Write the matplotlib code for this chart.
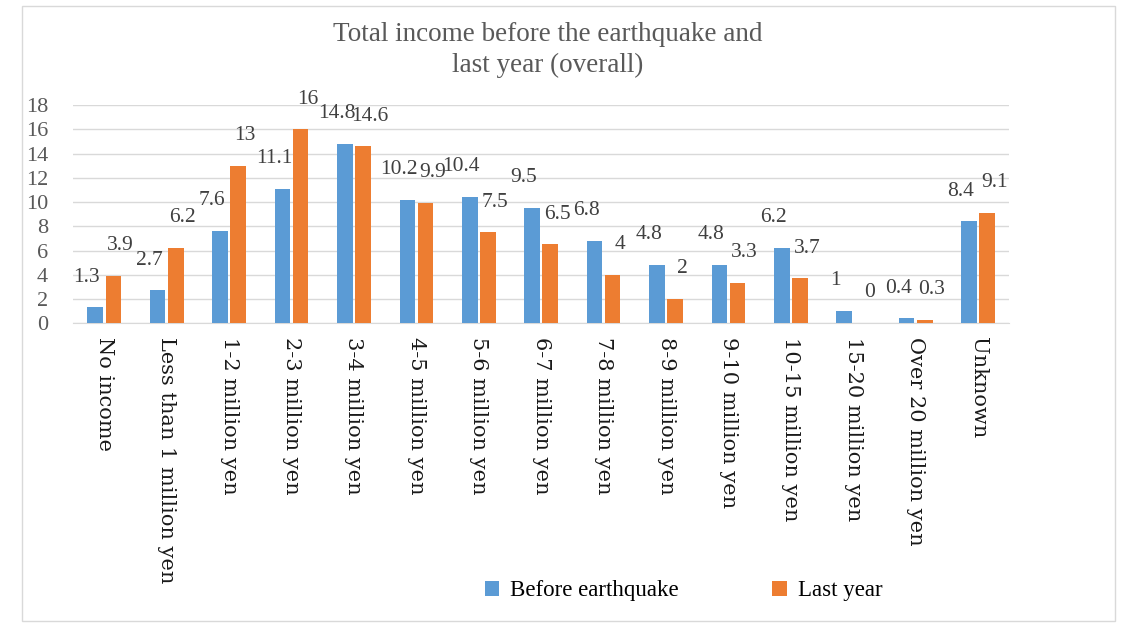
import matplotlib.pyplot as plt
import numpy as np
from matplotlib.patches import Rectangle

categories = [
    "No income", "Less than 1 million yen", "1-2 million yen", "2-3 million yen",
    "3-4 million yen", "4-5 million yen", "5-6 million yen", "6-7 million yen",
    "7-8 million yen", "8-9 million yen", "9-10 million yen", "10-15 million yen",
    "15-20 million yen", "Over 20 million yen", "Unknown",
]
before_quake = [1.3, 2.7, 7.6, 11.1, 14.8, 10.2, 10.4, 9.5, 6.8, 4.8, 4.8, 6.2, 1, 0.4, 8.4]
last_year = [3.9, 6.2, 13, 16, 14.6, 9.9, 7.5, 6.5, 4, 2, 3.3, 3.7, 0, 0.3, 9.1]
y_ticks = [0, 2, 4, 6, 8, 10, 12, 14, 16, 18]

plt.rcParams["font.family"] = ["Liberation Serif", "DejaVu Serif"]

fig = plt.figure(figsize=(11.24, 6.3), dpi=100)
ax = fig.add_axes([0.065, 0.487, 0.833, 0.346])

x = np.arange(len(categories))
w = 0.25
off = 0.145
blue = "#5B9BD5"
orange = "#ED7D31"

b1 = ax.bar(x - off, before_quake, w, color=blue, label="Before earthquake", zorder=3)
b2 = ax.bar(x + off, last_year, w, color=orange, label="Last year", zorder=3)

# blue labels nudged left, orange right, so the pairs do not sit on each other
for bars, vals, dx in ((b1, before_quake, -6), (b2, last_year, 5)):
    for rect, v in zip(bars, vals):
        ax.annotate(
            f"{v:g}",
            (rect.get_x() + rect.get_width() / 2, rect.get_height()),
            xytext=(dx, 15),
            textcoords="offset points",
            ha="center",
            va="bottom",
            fontsize=15.5,
            color="#404040",
            zorder=4,
        )

ax.set_xlim(-0.5, len(categories) - 0.5)
ax.set_ylim(0, 18)
ax.set_yticks(y_ticks)
ax.set_yticklabels([str(t) for t in y_ticks], fontsize=16, color="#595959")
ax.set_xticks(x)
ax.set_xticklabels(categories, rotation=-90, ha="center", va="top",
                   fontsize=15, color="#1a1a1a", family="DejaVu Serif")
ax.tick_params(axis="y", length=0, pad=18)
ax.tick_params(axis="x", length=0, pad=10)
ax.grid(axis="y", color="#D9D9D9", linewidth=1, zorder=0)
for s in ("top", "right", "left"):
    ax.spines[s].set_visible(False)
ax.spines["bottom"].set_color("#D9D9D9")

fig.text(0.487, 0.92, "Total income before the earthquake and\nlast year (overall)",
         ha="center", va="center", fontsize=19.5, color="#595959", linespacing=1.3)

fig.legend(handles=[b1, b2], loc="center", bbox_to_anchor=(0.608, 0.062), ncol=2,
           frameon=False, fontsize=16.5, handlelength=0.65, handleheight=0.65,
           handletextpad=0.45, columnspacing=4.1)

fig.patches.append(Rectangle((0.02, 0.015), 0.972, 0.975, transform=fig.transFigure,
                             fill=False, edgecolor="#D9D9D9", linewidth=1))

fig.savefig("out.png", dpi=100)
